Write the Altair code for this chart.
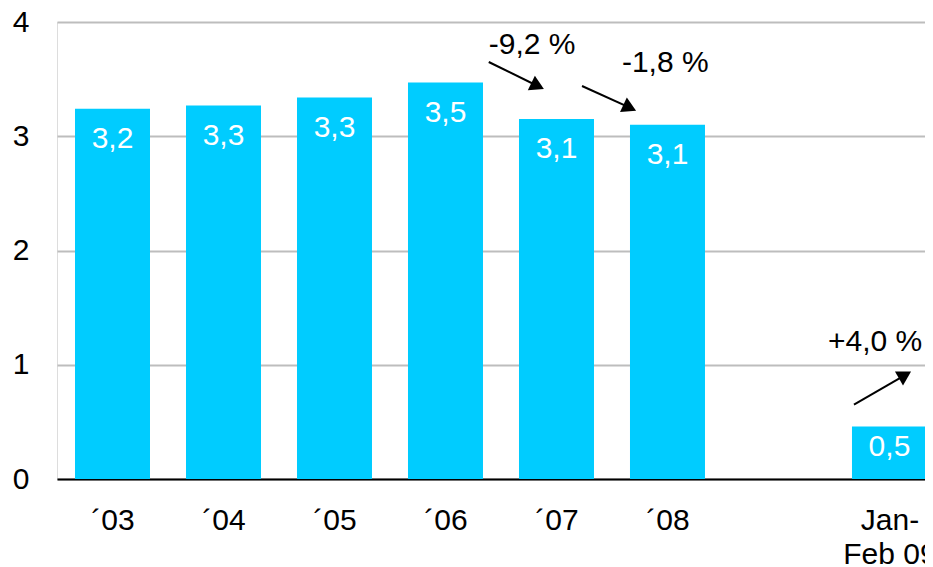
import altair as alt
import pandas as pd

# ---- data ----
categories = ["´03", "´04", "´05", "´06", "´07", "´08", "Jan-|Feb 09"]
slots = [0, 1, 2, 3, 4, 5, 7]          # category slot (one empty slot before Jan-Feb 09)
values = [3.24, 3.27, 3.34, 3.47, 3.15, 3.10, 0.46]
value_labels = ["3,2", "3,3", "3,3", "3,5", "3,1", "3,1", "0,5"]

note_texts = ["-9,2 %", "-1,8 %", "+4,0 %"]
note_x = [3.78, 4.98, 6.87]
note_y = [3.80, 3.645, 1.195]
arrow_x = [3.39, 4.23, 6.68]
arrow_y = [3.65, 3.44, 0.65]
arrow_x2 = [3.83, 4.66, 7.14]
arrow_y2 = [3.44, 3.25, 0.91]
arrow_angle = [26, 25, 330]

y_ticks = [0, 1, 2, 3, 4]

BAR = "#00CCFF"
FONT = "Liberation Sans"
FS = 30

bars_df = pd.DataFrame({"slot": slots, "value": values, "label": value_labels})
notes_df = pd.DataFrame({"text": note_texts, "x": note_x, "y": note_y})
arrows_df = pd.DataFrame({"x": arrow_x, "y": arrow_y, "x2": arrow_x2, "y2": arrow_y2,
                          "angle": arrow_angle})

# x-axis label expression built from the category list
parts = []
for s, c in zip(slots, categories):
    lines = c.split("|")
    if len(lines) > 1:
        js = "[" + ",".join("'" + l + "'" for l in lines) + "]"
    else:
        js = "'" + c + "'"
    parts.append(f"datum.value == {s} ? {js}")
label_expr = " : ".join(parts) + " : ''"

x_scale = alt.Scale(domain=[-0.5, 7.32], nice=False, zero=False, padding=0)
y_scale = alt.Scale(domain=[0, 4], nice=False, padding=0)

x_axis = alt.Axis(values=slots, labelExpr=label_expr, title=None, grid=False, ticks=False,
                  domainColor="black", domainWidth=2, labelFontSize=FS, labelColor="black",
                  labelPadding=26, labelLineHeight=34, labelFlush=False, labelOverlap=False,
                  labelFont=FONT)
y_axis = alt.Axis(values=y_ticks, format="d", title=None, domain=False, ticks=False, grid=True,
                  gridColor="#bdbdbd", gridWidth=2, labelFontSize=FS, labelColor="black",
                  labelPadding=28, labelFont=FONT)

base = alt.Chart(bars_df)

bars = base.mark_bar(color=BAR, size=75).encode(
    x=alt.X("slot:Q", scale=x_scale, axis=x_axis),
    y=alt.Y("value:Q", scale=y_scale, axis=y_axis),
)

bar_text = base.transform_calculate(
    ly="max(datum.value - 0.265, datum.value * 0.6)"
).mark_text(color="white", fontSize=FS, font=FONT, baseline="middle", align="center").encode(
    x=alt.X("slot:Q", scale=x_scale),
    y=alt.Y("ly:Q", scale=y_scale),
    text="label:N",
)

arrow_lines = alt.Chart(arrows_df).mark_rule(color="black", strokeWidth=2).encode(
    x=alt.X("x:Q", scale=x_scale),
    y=alt.Y("y:Q", scale=y_scale),
    x2="x2:Q",
    y2="y2:Q",
)

arrow_heads = alt.Chart(arrows_df).mark_point(
    shape="triangle-right", filled=True, color="black", opacity=1, size=260
).encode(
    x=alt.X("x2:Q", scale=x_scale),
    y=alt.Y("y2:Q", scale=y_scale),
    angle=alt.Angle("angle:Q", scale=None),
)

notes = alt.Chart(notes_df).mark_text(color="black", fontSize=FS, font=FONT,
                                      baseline="middle", align="center").encode(
    x=alt.X("x:Q", scale=x_scale),
    y=alt.Y("y:Q", scale=y_scale),
    text="text:N",
)

chart = alt.layer(bars, bar_text, arrow_lines, arrow_heads, notes).properties(
    width=868,
    height=457,
    autosize=alt.AutoSizeParams(type="none"),
    padding={"left": 49, "top": 14, "right": 0, "bottom": 86},
).configure_view(stroke=None).configure(font=FONT)

chart.save("out.html", embed_options={"renderer": "svg", "actions": False})
